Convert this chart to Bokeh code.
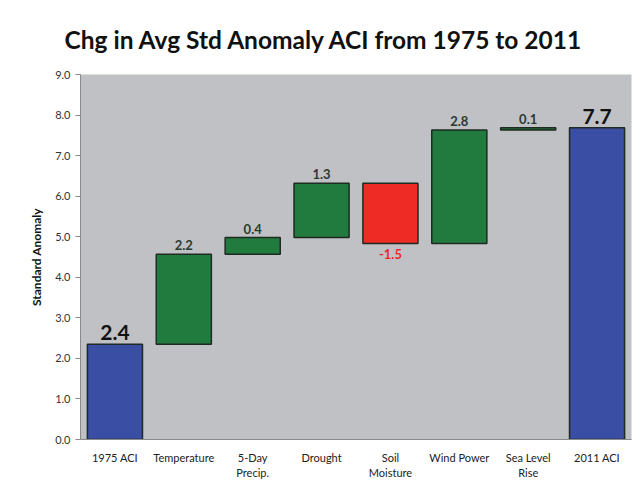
from bokeh.plotting import figure
from bokeh.models import FactorRange, ColumnDataSource, FixedTicker, Range1d, NumeralTickFormatter
from bokeh.core.properties import value
from bokeh.embed import file_html
from bokeh.resources import INLINE

categories = ["1975 ACI", "Temperature", "5-Day\nPrecip.", "Drought", "Soil\nMoisture",
              "Wind Power", "Sea Level\nRise", "2011 ACI"]
start_value = 2.35
changes = [2.22, 0.41, 1.34, -1.49, 2.80, 0.06]
end_value = 7.69
labels = ["2.4", "2.2", "0.4", "1.3", "-1.5", "2.8", "0.1", "7.7"]
y_ticks = [0, 1, 2, 3, 4, 5, 6, 7, 8, 9]

BLUE = "#3a4ea3"
GREEN = "#227b3e"
RED = "#ee2b25"

bottoms, tops, colors = [0.0], [start_value], [BLUE]
level = start_value
for c in changes:
    new = level + c
    bottoms.append(min(level, new))
    tops.append(max(level, new))
    colors.append(GREEN if c >= 0 else RED)
    level = new
bottoms.append(0.0)
tops.append(end_value)
colors.append(BLUE)

src = ColumnDataSource(dict(x=categories, bottom=bottoms, top=tops, color=colors))

p = figure(x_range=FactorRange(*categories), y_range=Range1d(0, 9),
           frame_width=551, frame_height=365, output_backend="svg", toolbar_location=None,
           min_border_left=80, min_border_right=1, min_border_bottom=30, min_border_top=74)
p.title.text = "Chg in Avg Std Anomaly ACI from 1975 to 2011"
p.title.text_font = "Lato"
p.title.text_font_size = "24.5px"
p.title.text_font_style = "bold"
p.title.text_color = "#111111"
p.title.align = "left"
p.title.offset = -16
p.title.standoff = 38
p.title.vertical_align = "top"

p.background_fill_color = "#c0c1c5"
p.border_fill_color = "white"
p.outline_line_color = None
p.xgrid.visible = False
p.ygrid.visible = False

p.vbar(x="x", bottom="bottom", top="top", width=0.8, fill_color="color",
       line_color="#1e2a22", line_width=1.5, source=src)

# labels
small_pos = dict(x=[], y=[], t=[])
small_neg = dict(x=[], y=[], t=[])
big = dict(x=[], y=[], t=[])
for i, cat in enumerate(categories):
    if i == 0 or i == len(categories) - 1:
        big["x"].append(cat); big["y"].append(tops[i]); big["t"].append(labels[i])
    elif changes[i - 1] >= 0:
        small_pos["x"].append(cat); small_pos["y"].append(tops[i]); small_pos["t"].append(labels[i])
    else:
        small_neg["x"].append(cat); small_neg["y"].append(bottoms[i]); small_neg["t"].append(labels[i])

p.text(x="x", y="y", text="t", source=ColumnDataSource(small_pos), text_align="center",
       text_baseline="bottom", y_offset=-4, text_font=value("Lato"), text_font_style="bold",
       text_font_size="13px", text_color="#2c3a30")
p.text(x="x", y="y", text="t", source=ColumnDataSource(small_neg), text_align="center",
       text_baseline="top", y_offset=5, text_font=value("Lato"), text_font_style="bold",
       text_font_size="13px", text_color=RED)
p.text(x="x", y="y", text="t", source=ColumnDataSource(big), text_align="center",
       text_baseline="bottom", y_offset=-4, text_font=value("Lato"), text_font_style="bold",
       text_font_size="21px", text_color="#111111")

p.yaxis.ticker = FixedTicker(ticks=y_ticks)
p.yaxis.formatter = NumeralTickFormatter(format="0.0")
p.yaxis.minor_tick_line_color = None
p.yaxis.major_tick_out = 5
p.yaxis.major_tick_in = 0
p.yaxis.axis_line_color = "#8a8a8a"
p.yaxis.major_tick_line_color = "#8a8a8a"
p.yaxis.major_label_text_font = "Lato"
p.yaxis.major_label_text_font_size = "11px"
p.yaxis.major_label_text_color = "#333333"
p.yaxis.axis_label = "Standard Anomaly"
p.yaxis.axis_label_text_font = "Lato"
p.yaxis.axis_label_text_font_size = "12px"
p.yaxis.axis_label_text_font_style = "bold"
p.yaxis.axis_label_text_color = "#111111"
p.yaxis.axis_label_standoff = 8

p.xaxis.major_tick_line_color = None
p.xaxis.minor_tick_line_color = None
p.xaxis.axis_line_color = "#8a8a8a"
p.xaxis.major_label_text_font = "Lato"
p.xaxis.major_label_text_font_size = "11px"
p.xaxis.major_label_text_color = "#222222"
p.xaxis.major_label_standoff = 5

open("out.html", "w").write(file_html(p, INLINE))
